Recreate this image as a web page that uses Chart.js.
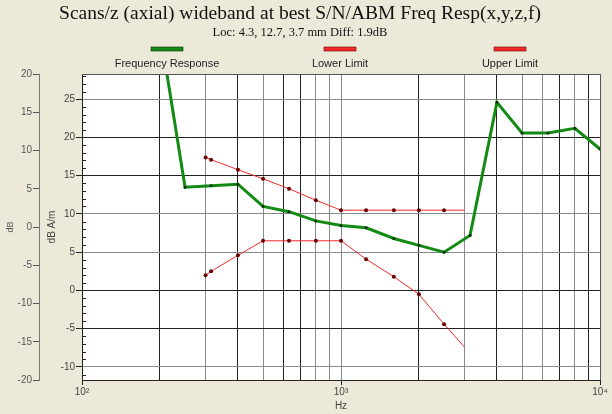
<!DOCTYPE html>
<html>
<head>
<meta charset="utf-8">
<script src="https://cdn.jsdelivr.net/npm/chart.js@4.4.1/dist/chart.umd.min.js"></script>
<style>
  html, body { margin: 0; padding: 0; background: #ece9d8; }
</style>
</head>
<body>
<canvas id="chart" width="612" height="414"></canvas>
<script>
// Data (1/3 octave bands, dB A/m)
const respFreqs = [200, 250, 315, 400, 500, 630, 800, 1000, 1250, 1600, 2000, 2500, 3150, 4000, 5000, 6300, 8000, 10000];
const respValues = [34.0, 13.5, 13.7, 13.9, 11.0, 10.3, 9.1, 8.5, 8.2, 6.8, 5.9, 5.0, 7.2, 24.6, 20.6, 20.6, 21.2, 18.5];

const limitFreqs = [300, 315, 400, 500, 630, 800, 1000, 1250, 1600, 2000, 2500, 3000];
const lowerValues = [2.0, 2.5, 4.6, 6.5, 6.5, 6.5, 6.5, 4.1, 1.8, -0.5, -4.4, -7.4];
const upperValues = [17.4, 17.1, 15.8, 14.6, 13.3, 11.8, 10.5, 10.5, 10.5, 10.5, 10.5, 10.5];

// Axis ticks
const xTicks = [100, 200, 300, 400, 500, 600, 700, 800, 900, 1000, 2000, 3000, 4000, 5000, 6000, 7000, 8000, 9000, 10000];
const xLabels = { 100: "10\u00b2", 1000: "10\u00b3", 10000: "10\u2074" };
const dbTicks = [-20, -15, -10, -5, 0, 5, 10, 15, 20];
const dbamTicks = [-11, -10, -9, -8, -7, -6, -5, -4, -3, -2, -1, 0, 1, 2, 3, 4, 5, 6, 7, 8, 9,
  10, 11, 12, 13, 14, 15, 16, 17, 18, 19, 20, 21, 22, 23, 24, 25, 26, 27, 28];

// Gridline shades, like the original rendering
const darkX = [200, 400, 600, 700, 2000, 4000, 7000, 9000];
const darkY = [20, 15, 0, -5];

const toPoints = (xs, ys) => xs.map((x, i) => ({ x: x, y: ys[i] }));
const tickFont = { family: "'Liberation Sans', Arial, sans-serif", size: 10 };
const isMajor = v => v % 5 === 0;

// Legend: colour bar above the label
const legendX = [167, 340, 510];
const topLegend = {
  id: "topLegend",
  afterDraw(chart) {
    const ctx = chart.ctx;
    chart.data.datasets.forEach((ds, i) => {
      const cx = legendX[i];
      ctx.save();
      ctx.fillStyle = ds.borderColor;
      ctx.strokeStyle = ds.pointBackgroundColor;
      ctx.lineWidth = 0.6;
      ctx.fillRect(cx - 16, 47, 32, 4);
      ctx.strokeRect(cx - 16, 47, 32, 4);
      ctx.fillStyle = "#222";
      ctx.font = "11px 'Liberation Sans', Arial, sans-serif";
      ctx.textAlign = "center";
      ctx.textBaseline = "middle";
      ctx.fillText(ds.label, cx, 64);
      ctx.restore();
    });
  }
};

// White plot area, frame and small inner ticks on the dB A/m axis
const plotFrame = {
  id: "plotFrame",
  beforeDraw(chart) {
    const a = chart.chartArea;
    chart.ctx.save();
    chart.ctx.fillStyle = "#ffffff";
    chart.ctx.fillRect(a.left, a.top, a.right - a.left, a.bottom - a.top);
    chart.ctx.restore();
  },
  afterDraw(chart) {
    const a = chart.chartArea;
    const ctx = chart.ctx;
    const y = chart.scales.y;
    ctx.save();
    ctx.strokeStyle = "#555";
    ctx.lineWidth = 1;
    ctx.beginPath();
    ctx.moveTo(a.left, a.top + 0.5);
    ctx.lineTo(a.right + 0.5, a.top + 0.5);
    ctx.lineTo(a.right + 0.5, a.bottom);
    ctx.stroke();
    ctx.strokeStyle = "#222";
    y.ticks.forEach(t => {
      if (isMajor(t.value)) return;
      const py = Math.round(y.getPixelForValue(t.value)) + 0.5;
      ctx.beginPath();
      ctx.moveTo(a.left, py);
      ctx.lineTo(a.left + 4, py);
      ctx.stroke();
    });
    ctx.restore();
  }
};

new Chart(document.getElementById("chart"), {
  type: "line",
  data: {
    datasets: [{
      label: "Frequency Response",
      data: toPoints(respFreqs, respValues),
      borderColor: "#138a13",
      borderWidth: 3,
      pointRadius: 1.5,
      pointBackgroundColor: "#063306",
      pointBorderWidth: 0,
      yAxisID: "y"
    }, {
      label: "Lower Limit",
      data: toPoints(limitFreqs, lowerValues),
      borderColor: "#f22a2a",
      borderWidth: 1,
      pointRadius: ctx => ctx.dataIndex === limitFreqs.length - 1 ? 0 : 2,
      pointBackgroundColor: "#6a0000",
      pointBorderWidth: 0,
      yAxisID: "y"
    }, {
      label: "Upper Limit",
      data: toPoints(limitFreqs, upperValues),
      borderColor: "#f22a2a",
      borderWidth: 1,
      pointRadius: ctx => ctx.dataIndex === limitFreqs.length - 1 ? 0 : 2,
      pointBackgroundColor: "#6a0000",
      pointBorderWidth: 0,
      yAxisID: "y"
    }]
  },
  options: {
    responsive: false,
    animation: false,
    devicePixelRatio: 1,
    layout: { padding: { left: 0, right: 12, top: 0, bottom: 0 } },
    plugins: {
      legend: { display: false },
      tooltip: { enabled: false },
      title: {
        display: true,
        text: "Scans/z (axial) wideband at best S/N/ABM Freq Resp(x,y,z,f)",
        color: "#111",
        font: { family: "'Liberation Serif', 'Times New Roman', serif", size: 19.5, weight: "normal" },
        padding: { top: 2, bottom: 0 }
      },
      subtitle: {
        display: true,
        text: "Loc: 4.3, 12.7, 3.7 mm Diff: 1.9dB",
        color: "#111",
        font: { family: "'Liberation Serif', 'Times New Roman', serif", size: 12.5 },
        padding: { top: 0, bottom: 33.6 }
      }
    },
    scales: {
      x: {
        type: "logarithmic",
        min: 100,
        max: 10000,
        afterBuildTicks: s => { s.ticks = xTicks.map(v => ({ value: v })); },
        afterFit: s => { s.height = 34; },
        ticks: {
          autoSkip: false,
          maxRotation: 0,
          padding: 1,
          color: "#444",
          font: tickFont,
          callback: v => xLabels[v] || ""
        },
        grid: {
          color: c => darkX.includes(c.tick && c.tick.value) ? "#222" : "#8a8a8a",
          tickColor: c => xLabels[c.tick && c.tick.value] ? "#222" : "rgba(0,0,0,0)",
          tickLength: 5
        },
        border: { color: "#222", width: 1 },
        title: {
          display: true,
          text: "Hz",
          color: "#444",
          font: tickFont,
          padding: { top: 0, bottom: 2 }
        }
      },
      y: {
        type: "linear",
        position: "left",
        weight: 0,
        min: -11.7,
        max: 28.3,
        afterBuildTicks: s => { s.ticks = dbamTicks.map(v => ({ value: v })); },
        afterFit: s => { s.width = 43; },
        ticks: {
          autoSkip: false,
          padding: 1,
          color: "#444",
          font: tickFont,
          callback: v => isMajor(v) ? String(v) : ""
        },
        grid: {
          color: c => {
            const v = c.tick && c.tick.value;
            if (!isMajor(v)) return "rgba(0,0,0,0)";
            return darkY.includes(v) ? "#222" : "#8a8a8a";
          },
          tickColor: c => isMajor(c.tick && c.tick.value) ? "#222" : "rgba(0,0,0,0)",
          tickLength: 6
        },
        border: { color: "#222", width: 1 },
        title: {
          display: true,
          text: "dB A/m",
          color: "#444",
          font: tickFont,
          padding: { top: 7, bottom: 0 }
        }
      },
      y2: {
        type: "linear",
        position: "left",
        weight: 1,
        min: -20,
        max: 20,
        afterBuildTicks: s => { s.ticks = dbTicks.map(v => ({ value: v })); },
        afterFit: s => { s.width = 39; },
        ticks: {
          autoSkip: false,
          padding: 1,
          color: "#555",
          font: tickFont
        },
        grid: {
          drawOnChartArea: false,
          tickColor: "#555",
          tickLength: 6
        },
        border: { color: "#777", width: 1 },
        title: {
          display: true,
          text: "dB",
          color: "#555",
          font: { family: "'Liberation Sans', Arial, sans-serif", size: 9 },
          padding: { top: 5, bottom: 0 }
        }
      }
    }
  },
  plugins: [plotFrame, topLegend]
});
</script>
</body>
</html>
